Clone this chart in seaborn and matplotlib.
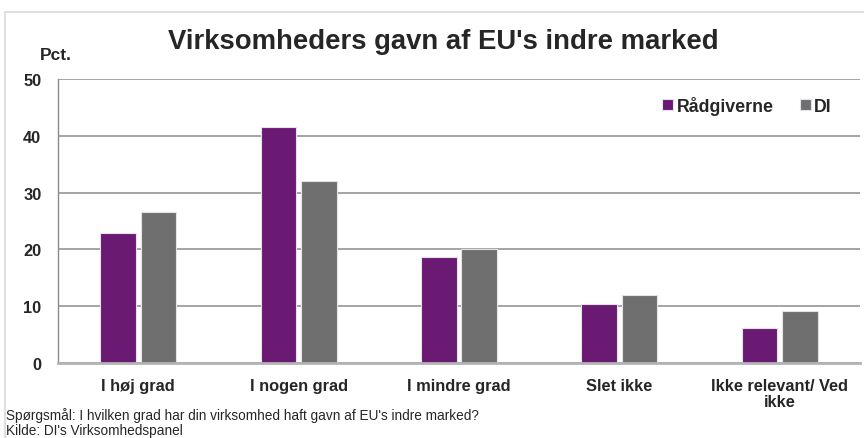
import pandas as pd
import seaborn as sns
import matplotlib.pyplot as plt
from matplotlib.patches import Rectangle

categories = ['I høj grad', 'I nogen grad', 'I mindre grad', 'Slet ikke', 'Ikke relevant/ Ved\nikke']
raadgiverne = [22.9, 41.6, 18.7, 10.3, 6.2]
di = [26.6, 32.0, 20.0, 11.9, 9.1]
series_names = ['Rådgiverne', 'DI']
colors = ['#6a1a73', '#6f6f6f']


def build_frame():
    rows = []
    for name, vals in zip(series_names, [raadgiverne, di]):
        for cat, v in zip(categories, vals):
            rows.append({'Kategori': cat, 'Serie': name, 'Pct': v})
    return pd.DataFrame(rows)


def main():
    sns.set_style('white')
    plt.rcParams['font.family'] = ['Liberation Sans', 'DejaVu Sans']

    data = build_frame()
    fig = plt.figure(figsize=(8.64, 4.39), dpi=100)
    ax = fig.add_axes([58 / 864, 1 - 364 / 439, (860 - 58) / 864, (364 - 80) / 439])

    sns.barplot(data=data, x='Kategori', y='Pct', hue='Serie', palette=colors,
                width=0.505, gap=0.12, edgecolor='#e6e0e8', linewidth=0.8,
                saturation=1, ax=ax, legend=True)

    ax.set_ylim(0, 50)
    ax.set_xlim(-0.5, len(categories) - 0.5)
    ax.set_yticks(range(0, 51, 10))
    ax.yaxis.grid(True, color='#8c8c8c', linewidth=1.1)
    ax.set_axisbelow(True)
    for side in ['top', 'right']:
        ax.spines[side].set_visible(False)
    ax.spines['left'].set_color('#8c8c8c')
    ax.spines['left'].set_linewidth(1.0)
    ax.spines['bottom'].set_color('#b3b3b3')
    ax.spines['bottom'].set_linewidth(2)
    ax.tick_params(axis='both', length=0, labelsize=11.8)
    ax.tick_params(axis='y', pad=12)
    ax.tick_params(axis='x', pad=11)
    for lbl in ax.get_xticklabels() + ax.get_yticklabels():
        lbl.set_fontweight('bold')
        lbl.set_linespacing(1.05)
    ax.set_xlabel('')
    ax.set_ylabel('')

    ax.legend(loc='upper right', bbox_to_anchor=(0.985, 0.998), ncol=2, frameon=False,
              handlelength=0.6, handleheight=0.6, handletextpad=0.2,
              columnspacing=1.5, prop={'weight': 'bold', 'size': 12.8})

    fig.text(443 / 864, 1 - 42 / 439, "Virksomheders gavn af EU's indre marked",
             ha='center', va='center', fontsize=19.8, fontweight='bold')
    fig.text(56 / 864, 1 - 56 / 439, 'Pct.', ha='center', va='center',
             fontsize=12.5, fontweight='bold')
    fig.text(6 / 864, 1 - 416 / 439,
             "Spørgsmål: I hvilken grad har din virksomhed haft gavn af EU's indre marked?",
             ha='left', va='center', fontsize=9.8)
    fig.text(6 / 864, 1 - 431 / 439, "Kilde: DI's Virksomhedspanel",
             ha='left', va='center', fontsize=9.8)

    fig.patches.append(Rectangle((5 / 864, -0.1), 1.1, 1 - 13 / 439 + 0.1,
                                 transform=fig.transFigure, fill=False,
                                 edgecolor='#d9d9d9', linewidth=1.2))

    fig.savefig('out.png', dpi=100)


if __name__ == '__main__':
    main()
